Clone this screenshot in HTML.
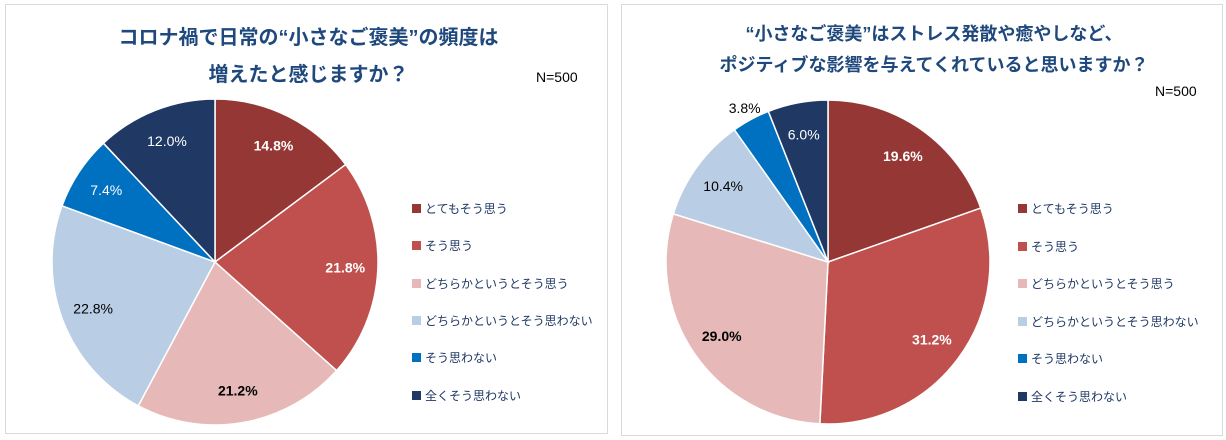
<!DOCTYPE html>
<html><head><meta charset="utf-8">
<style>
body{margin:0;width:1226px;height:440px;background:#fff;overflow:hidden;font-family:"Liberation Sans","Noto Sans CJK JP",sans-serif;}
.panel{position:absolute;border:1px solid #d9d9d9;background:#fff;}
.title{position:absolute;left:0;width:100%;text-align:center;font-weight:bold;color:#1f497d;font-size:20px;line-height:37px;}
.n{position:absolute;font-size:14px;color:#000;}
.legend{position:absolute;font-size:12px;color:#1f3864;}
.legend div{position:absolute;white-space:nowrap;left:0;}
.legend span.sw{display:inline-block;width:9px;height:9px;margin-right:4px;vertical-align:0px;}
svg{position:absolute;left:0;top:0}
</style></head><body>
<div class="panel" style="left:5px;top:4px;width:601px;height:428px;">
  <div class="title" style="top:15px;left:2px">コロナ禍で日常の“小さなご褒美”の頻度は<br>増えたと感じますか？</div>
  <div class="n" style="left:530px;top:64px">N=500</div>
</div>
<div class="panel" style="left:621px;top:4px;width:600px;height:430px;">
  <div class="title" style="top:14px;left:12px;line-height:31px;font-size:18px">“小さなご褒美”はストレス発散や癒やしなど、<br>ポジティブな影響を与えてくれていると思いますか？</div>
  <div class="n" style="left:533px;top:78px">N=500</div>
</div>
<svg id="chart" width="1226" height="440"></svg>
<div id="leg1" class="legend" style="left:412px;top:0"></div>
<div id="leg2" class="legend" style="left:1018px;top:0"></div>
<script>
const categories=["とてもそう思う","そう思う","どちらかというとそう思う","どちらかというとそう思わない","そう思わない","全くそう思わない"];
const leftValues=[14.8,21.8,21.2,22.8,7.4,12.0];
const rightValues=[19.6,31.2,29.0,10.4,3.8,6.0];
const colors=["#953735","#c0504d","#e6b9b8","#b9cde5","#0070c0","#1f3864"];
const labelColors=["#fff","#fff","#000","#000","#fff","#fff"];
const labelBold=[true,true,true,false,false,false];
const NS="http://www.w3.org/2000/svg";
const svg=document.getElementById('chart');
function drawPie(vals,cx,cy,r,prefix,outsideIdx){
  const total=vals.reduce((a,b)=>a+b,0);
  let acc=0;
  vals.forEach((v,i)=>{
    const a0=acc/total*2*Math.PI; acc+=v; const a1=acc/total*2*Math.PI;
    const x0=cx+r*Math.sin(a0),y0=cy-r*Math.cos(a0),x1=cx+r*Math.sin(a1),y1=cy-r*Math.cos(a1);
    const large=(a1-a0)>Math.PI?1:0;
    const p=document.createElementNS(NS,'path');
    p.setAttribute('d',`M${cx},${cy}L${x0},${y0}A${r},${r} 0 ${large} 1 ${x1},${y1}Z`);
    p.setAttribute('fill',colors[i]);p.setAttribute('stroke','#fff');p.setAttribute('stroke-width','1.5');
    
    
    svg.appendChild(p);
    const am=(a0+a1)/2; const out=(i===outsideIdx); const lr=out?r*1.08:r*0.8;
    const t=document.createElementNS(NS,'text');
    t.setAttribute('x',cx+lr*Math.sin(am));t.setAttribute('y',cy-lr*Math.cos(am)+5);
    t.setAttribute('text-anchor','middle');t.setAttribute('font-size','14');
    t.setAttribute('font-family','Liberation Sans, sans-serif');
    t.setAttribute('fill',out?'#000':labelColors[i]);
    if(labelBold[i]) t.setAttribute('font-weight','bold');
    t.textContent=v.toFixed(1)+'%';
    
    
    svg.appendChild(t);
  });
}
drawPie(leftValues,215,262,163,'left',-1);
drawPie(rightValues,828,262,162,'right',4);
function legend(id,tops){
  const el=document.getElementById(id);
  categories.forEach((c,i)=>{
    const d=document.createElement('div');
    d.style.top=(tops[0]+i*tops[1]-9)+'px';
    d.innerHTML='<span class="sw" style="background:'+colors[i]+'"></span>'+c;
    
    
    el.appendChild(d);
  });
}
legend('leg1',[209,37.3]);
legend('leg2',[209,37.6]);
</script>
</body></html>
